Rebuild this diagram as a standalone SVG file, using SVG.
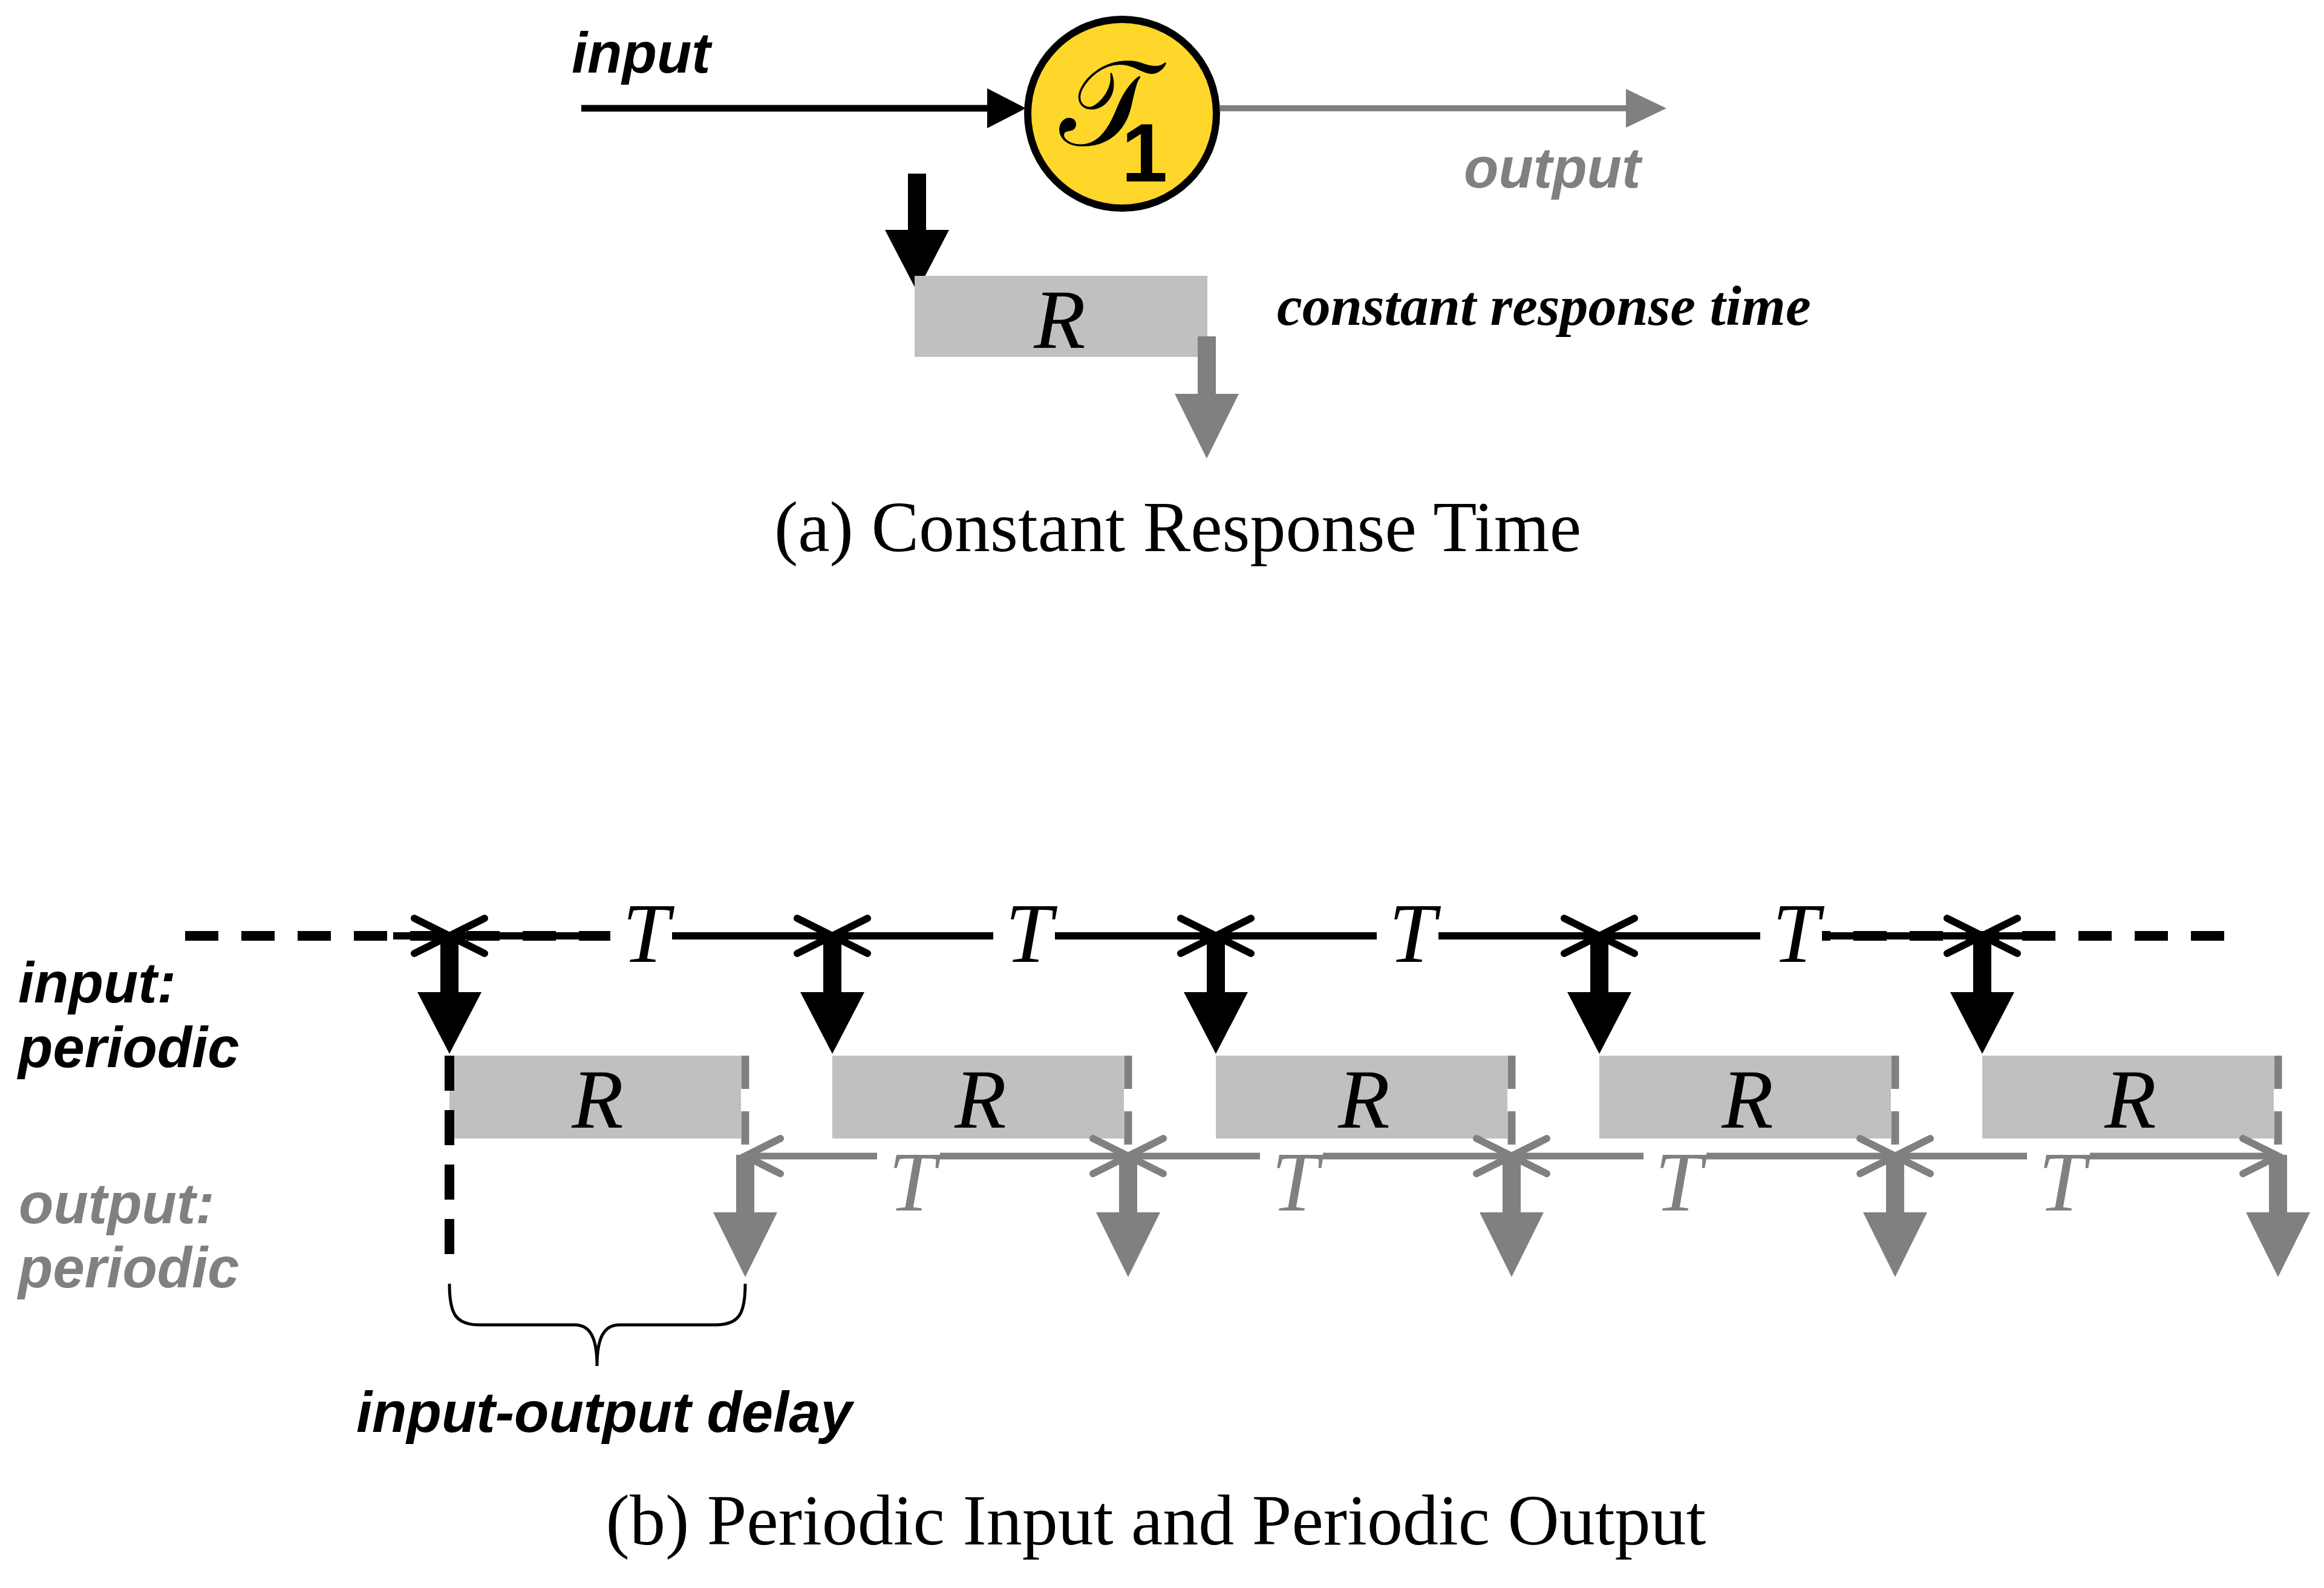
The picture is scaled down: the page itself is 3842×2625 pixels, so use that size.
<svg xmlns="http://www.w3.org/2000/svg" xmlns:xlink="http://www.w3.org/1999/xlink" width="3842" height="2625" viewBox="0 0 3842 2625">
<style>
.lab{font-family:"Liberation Sans",Arial,sans-serif;font-weight:bold;font-style:italic;font-size:94px}
.blk{fill:#000}
.gry{fill:#808080}
.math{font-family:"Liberation Serif","Times New Roman",serif;font-style:italic;font-size:140px}
.cap{font-family:"Liberation Serif","Times New Roman",serif;font-size:118px;fill:#000}
.note{font-family:"Liberation Serif","Times New Roman",serif;font-weight:bold;font-style:italic;font-size:94px;fill:#000}
.box{fill:#C0C0C0}
.dimB{fill:none;stroke:#000;stroke-width:12;marker-start:url(#chB);marker-end:url(#chB)}
.dimG{fill:none;stroke:#808080;stroke-width:11;marker-start:url(#chG);marker-end:url(#chG)}
.dashB{fill:none;stroke:#000;stroke-width:16;stroke-dasharray:55 38}
.vdashG{fill:none;stroke:#808080;stroke-width:13;stroke-dasharray:55 37}
.vdashB{fill:none;stroke:#000;stroke-width:16;stroke-dasharray:58 32}
.script{font-family:"DejaVu Serif","Noto Sans Math","Liberation Serif",serif;font-size:192px;fill:#000}
.sub{font-family:"Liberation Sans",Arial,sans-serif;font-weight:bold;font-size:137px;fill:#000}
</style>
<defs>
<marker id="chB" markerUnits="userSpaceOnUse" viewBox="-80 -45 100 90" refX="0" refY="0" markerWidth="100" markerHeight="90" orient="auto-start-reverse" overflow="visible">
<path d="M-58,-29 L0,0 L-58,29" fill="none" stroke="#000" stroke-width="12" stroke-linecap="round"/>
</marker>
<marker id="chG" markerUnits="userSpaceOnUse" viewBox="-80 -45 100 90" refX="0" refY="0" markerWidth="100" markerHeight="90" orient="auto-start-reverse" overflow="visible">
<path d="M-58,-29 L0,0 L-58,29" fill="none" stroke="#808080" stroke-width="12" stroke-linecap="round"/>
</marker>
<path id="downB" d="M-15,0 H15 V93 H53 L0,195 L-53,93 H-15 Z" fill="#000"/>
<path id="downG" d="M-15,0 H15 V95 H53 L0,202 L-53,95 H-15 Z" fill="#808080"/>
</defs>
<rect width="3842" height="2625" fill="#fff"/>

<!-- (a) Constant Response Time -->
<g id="a-connectors">
<line x1="961" y1="179" x2="1640" y2="179" stroke="#000" stroke-width="11"/>
<polygon points="1632,146 1696,179 1632,212" fill="#000"/>
<line x1="2017" y1="179" x2="2695" y2="179" stroke="#808080" stroke-width="10"/>
<polygon points="2688,147 2755,179 2688,211" fill="#808080"/>
</g>
<g id="a-input-label"><text class="lab blk" x="945" y="120">input</text></g>
<g id="a-output-label"><text class="lab gry" x="2420" y="310">output</text></g>
<g id="a-task">
<circle cx="1855" cy="188" r="156" fill="#FFD72B" stroke="#000" stroke-width="12"/>
<text class="script" x="1836" y="240" text-anchor="middle">𝒯<tspan class="sub" x="1892" y="300">1</tspan></text>
</g>
<g id="a-response">
<use xlink:href="#downB" x="1516" y="287"/>
<rect class="box" x="1512" y="456" width="484" height="134"/>
<text class="math blk" x="1752" y="575" text-anchor="middle">R</text>
<use xlink:href="#downG" x="1995" y="556"/>
</g>
<g id="a-note"><text class="note" x="2111" y="537">constant response time</text></g>
<g id="a-caption"><text class="cap" x="1947" y="911" text-anchor="middle">(a) Constant Response Time</text></g>

<!-- (b) Periodic Input and Periodic Output -->
<g id="b-labels">
<text class="lab blk" x="30" y="1657">input:</text>
<text class="lab blk" x="30" y="1764">periodic</text>
<text class="lab gry" x="31" y="2022">output:</text>
<text class="lab gry" x="30" y="2128">periodic</text>
</g>

<g id="b-boxes">
<rect class="box" x="743" y="1745" width="482" height="137"/>
<rect class="box" x="1376" y="1745" width="482" height="137"/>
<rect class="box" x="2010" y="1745" width="482" height="137"/>
<rect class="box" x="2644" y="1745" width="482" height="137"/>
<rect class="box" x="3277" y="1745" width="482" height="137"/>
<text class="math blk" x="988" y="1864" text-anchor="middle">R</text>
<text class="math blk" x="1621" y="1864" text-anchor="middle">R</text>
<text class="math blk" x="2255" y="1864" text-anchor="middle">R</text>
<text class="math blk" x="2889" y="1864" text-anchor="middle">R</text>
<text class="math blk" x="3522" y="1864" text-anchor="middle">R</text>
</g>

<g id="b-connectors">
<!-- input period line -->
<line class="dashB" x1="306" y1="1547" x2="1009" y2="1547"/>
<line x1="650" y1="1547" x2="743" y2="1547" stroke="#000" stroke-width="12" marker-end="url(#chB)"/>
<path class="dimB" d="M743,1547 H1009 M1111,1547 H1376"/>
<path class="dimB" d="M1376,1547 H1642 M1744,1547 H2010"/>
<path class="dimB" d="M2010,1547 H2276 M2378,1547 H2644"/>
<path class="dimB" d="M2644,1547 H2910 M3012,1547 H3277"/>
<line x1="3380" y1="1547" x2="3277" y2="1547" stroke="#000" stroke-width="12" marker-end="url(#chB)"/>
<line class="dashB" x1="3677" y1="1547" x2="3012" y2="1547"/>
<!-- input arrows -->
<use xlink:href="#downB" x="743" y="1547"/>
<use xlink:href="#downB" x="1376" y="1547"/>
<use xlink:href="#downB" x="2010" y="1547"/>
<use xlink:href="#downB" x="2644" y="1547"/>
<use xlink:href="#downB" x="3277" y="1547"/>
<!-- response end markers -->
<line class="vdashG" x1="1232" y1="1745" x2="1232" y2="1895"/>
<line class="vdashG" x1="1865" y1="1745" x2="1865" y2="1895"/>
<line class="vdashG" x1="2499" y1="1745" x2="2499" y2="1895"/>
<line class="vdashG" x1="3133" y1="1745" x2="3133" y2="1895"/>
<line class="vdashG" x1="3766" y1="1745" x2="3766" y2="1895"/>
<!-- output period line -->
<path class="dimG" d="M1232,1911 H1450 M1554,1911 H1865"/>
<path class="dimG" d="M1865,1911 H2083 M2187,1911 H2499"/>
<path class="dimG" d="M2499,1911 H2717 M2821,1911 H3133"/>
<path class="dimG" d="M3133,1911 H3351 M3455,1911 H3766"/>
<!-- output arrows -->
<use xlink:href="#downG" x="1232" y="1909"/>
<use xlink:href="#downG" x="1865" y="1909"/>
<use xlink:href="#downG" x="2499" y="1909"/>
<use xlink:href="#downG" x="3133" y="1909"/>
<use xlink:href="#downG" x="3766" y="1909"/>
<!-- delay marker -->
<line class="vdashB" x1="743" y1="1745" x2="743" y2="2080"/>
<path d="M743,2122 C743,2170 752,2190 792,2190 L950,2190 C976,2190 987,2212 987,2258 C987,2212 998,2190 1024,2190 L1183,2190 C1223,2190 1232,2170 1232,2122" fill="none" stroke="#000" stroke-width="5"/>
</g>

<g id="b-period-labels">
<text class="math blk" x="1068" y="1590" text-anchor="middle">T</text>
<text class="math blk" x="1701" y="1590" text-anchor="middle">T</text>
<text class="math blk" x="2335" y="1590" text-anchor="middle">T</text>
<text class="math blk" x="2969" y="1590" text-anchor="middle">T</text>
<text class="math gry" x="1508" y="2001" text-anchor="middle">T</text>
<text class="math gry" x="2141" y="2001" text-anchor="middle">T</text>
<text class="math gry" x="2775" y="2001" text-anchor="middle">T</text>
<text class="math gry" x="3409" y="2001" text-anchor="middle">T</text>
</g>
<g id="b-delay-label"><text class="lab blk" x="589" y="2367">input-output delay</text></g>
<g id="b-caption"><text class="cap" x="1911" y="2553" text-anchor="middle">(b) Periodic Input and Periodic Output</text></g>
</svg>
